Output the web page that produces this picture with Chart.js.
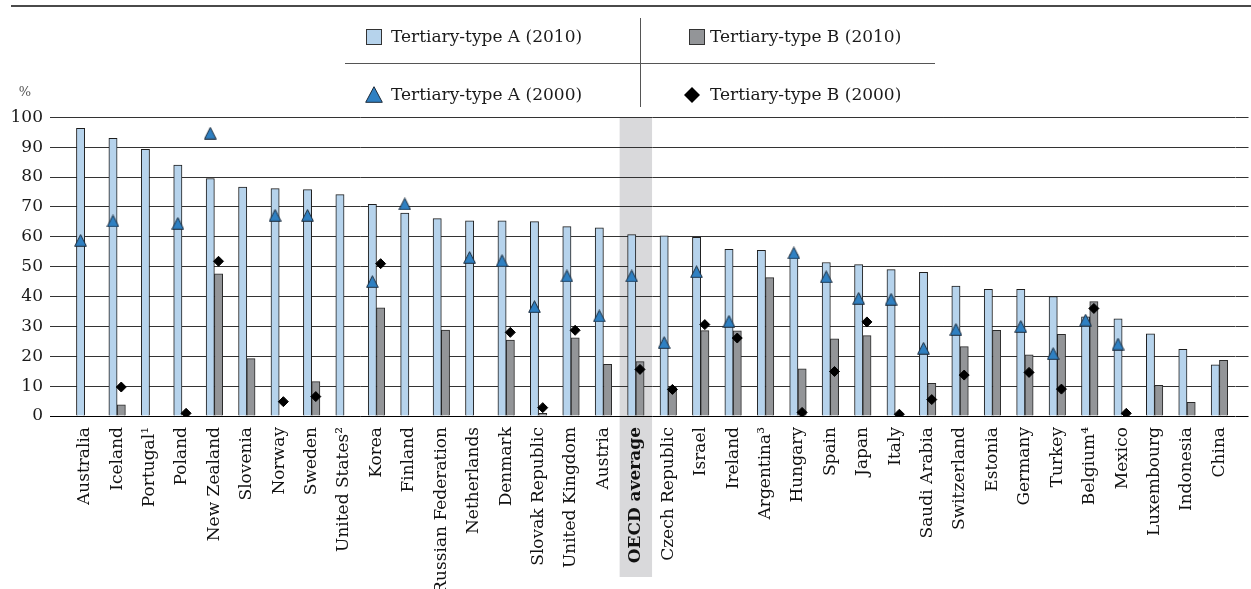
<!DOCTYPE html>
<html>
<head>
<meta charset="utf-8">
<script src="https://cdn.jsdelivr.net/npm/chart.js@4.4.1/dist/chart.umd.min.js"></script>
<style>
  html, body { margin: 0; padding: 0; background: #ffffff; }
  #wrap { position: relative; width: 1251px; height: 589px; }
</style>
</head>
<body>
<div id="wrap"><canvas id="c" width="1251" height="589"></canvas></div>
<script>
// Entry rates into tertiary education, 2000 and 2010 (%)
const categories = [
  'Australia', 'Iceland', 'Portugal¹', 'Poland', 'New Zealand', 'Slovenia', 'Norway', 'Sweden',
  'United States²', 'Korea', 'Finland', 'Russian Federation', 'Netherlands', 'Denmark',
  'Slovak Republic', 'United Kingdom', 'Austria', 'OECD average', 'Czech Republic', 'Israel',
  'Ireland', 'Argentina³', 'Hungary', 'Spain', 'Japan', 'Italy', 'Saudi Arabia', 'Switzerland',
  'Estonia', 'Germany', 'Turkey', 'Belgium⁴', 'Mexico', 'Luxembourg', 'Indonesia', 'China'
];

const typeA2010 = [
  96.3, 93.0, 89.3, 84.0, 79.5, 76.6, 76.1, 75.8, 74.1, 70.9,
  67.9, 66.1, 65.3, 65.3, 65.1, 63.4, 63.0, 60.7, 60.3, 59.8,
  55.8, 55.5, 54.0, 51.4, 50.7, 49.0, 48.1, 43.5, 42.4, 42.4,
  40.0, 33.2, 32.5, 27.5, 22.3, 17.1
];

const typeB2010 = [
  null, 3.7, null, null, 47.6, 19.2, null, 11.5, null, 36.2,
  null, 28.8, null, 25.4, 0.9, 26.2, 17.3, 18.2, 9.5, 28.6,
  28.5, 46.3, 15.8, 25.8, 26.9, null, 10.9, 23.2, 28.7, 20.5,
  27.3, 38.3, null, 10.3, 4.6, 18.6
];

const typeA2000 = [
  58.8, 65.3, null, 64.5, 94.7, null, 67.2, 67.2, null, 45.0,
  71.0, null, 53.1, 52.0, 36.6, 46.9, 33.5, 46.9, 24.6, 48.3,
  31.7, null, 54.6, 46.6, 39.4, 39.1, 22.7, 29.0, null, 30.0,
  20.9, 32.1, 24.1, null, null, null
];

const typeB2000 = [
  null, 9.7, null, 0.9, 51.8, null, 4.8, 6.5, null, 51.0,
  null, null, null, 28.0, 2.8, 28.7, null, 15.6, 8.9, 30.6,
  26.1, null, 1.2, 14.9, 31.5, 0.6, 5.5, 13.7, null, 14.6,
  9.0, 36.0, 0.9, null, null, null
];

const seriesNames = [
  'Tertiary-type A (2010)', 'Tertiary-type B (2010)',
  'Tertiary-type A (2000)', 'Tertiary-type B (2000)'
];

const yTickValues = [0, 10, 20, 30, 40, 50, 60, 70, 80, 90, 100];

const FONT = "'DejaVu Serif', serif";
const COL_A = '#b6d3ec';
const COL_B = '#939598';
const COL_TRI = '#2f80c2';
const OECD_INDEX = categories.indexOf('OECD average');

// each country gets two adjacent bars; this is one bar's width in category units
const BAR_SHARE = 0.255;
const HALF = BAR_SHARE / 2;   // bar centre relative to the category centre

// triangle marker sprite
function triangleSprite(w, h) {
  const c = document.createElement('canvas');
  c.width = w; c.height = h;
  const g = c.getContext('2d');
  g.beginPath();
  g.moveTo(w / 2, 0.7);
  g.lineTo(w - 0.7, h - 0.7);
  g.lineTo(0.7, h - 0.7);
  g.closePath();
  g.fillStyle = COL_TRI;
  g.fill();
  g.lineWidth = 1;
  g.strokeStyle = '#1c2a3a';
  g.stroke();
  return c;
}
const triChart = triangleSprite(13, 13);
const triLegend = triangleSprite(18, 17);

const pointsFrom = (arr, shift) => arr.map((v, i) => ({ x: i + shift, y: v }));

// shaded column behind the OECD average
const bandPlugin = {
  id: 'oecdBand',
  beforeDraw(chart) {
    const { ctx, chartArea } = chart;
    const xs = chart.scales.x;
    const w = xs.width / categories.length;
    const cx = xs.getPixelForValue(OECD_INDEX);
    ctx.save();
    ctx.fillStyle = '#d9d9db';
    ctx.fillRect(cx - w / 2, chartArea.top, w, 577 - chartArea.top);
    ctx.restore();
  }
};

// top rule, unit label and the two-by-two legend
const framePlugin = {
  id: 'frame',
  afterDraw(chart) {
    const ctx = chart.ctx;
    ctx.save();
    ctx.fillStyle = '#4a4a4a';
    ctx.fillRect(11, 5, 1240, 2);

    ctx.font = '13px ' + FONT;
    ctx.fillStyle = '#555555';
    ctx.textAlign = 'center';
    ctx.textBaseline = 'middle';
    ctx.fillText('%', 25, 93);

    // legend dividers
    ctx.strokeStyle = '#555555';
    ctx.lineWidth = 1;
    ctx.beginPath();
    ctx.moveTo(640.5, 18); ctx.lineTo(640.5, 107);
    ctx.moveTo(345, 63.5); ctx.lineTo(935, 63.5);
    ctx.stroke();

    const rowY = [37, 95];
    const colX = [366, 689];
    const textX = [391, 710];

    // bar swatches
    ctx.lineWidth = 1;
    ctx.strokeStyle = '#333333';
    ctx.fillStyle = COL_A;
    ctx.fillRect(colX[0] + 0.5, rowY[0] - 7.5, 15, 15);
    ctx.strokeRect(colX[0] + 0.5, rowY[0] - 7.5, 15, 15);
    ctx.fillStyle = COL_B;
    ctx.fillRect(colX[1] + 0.5, rowY[0] - 7.5, 15, 15);
    ctx.strokeRect(colX[1] + 0.5, rowY[0] - 7.5, 15, 15);

    // point swatches
    ctx.drawImage(triLegend, colX[0] - 1, rowY[1] - 9);
    ctx.beginPath();
    const dx = colX[1] + 3, r = 8;
    ctx.moveTo(dx, rowY[1] - r);
    ctx.lineTo(dx + r, rowY[1]);
    ctx.lineTo(dx, rowY[1] + r);
    ctx.lineTo(dx - r, rowY[1]);
    ctx.closePath();
    ctx.fillStyle = '#000000';
    ctx.fill();

    ctx.font = '17px ' + FONT;
    ctx.fillStyle = '#1a1a1a';
    ctx.textAlign = 'left';
    ctx.textBaseline = 'middle';
    ctx.fillText(seriesNames[0], textX[0], rowY[0] + 1);
    ctx.fillText(seriesNames[1], textX[1], rowY[0] + 1);
    ctx.fillText(seriesNames[2], textX[0], rowY[1] + 1);
    ctx.fillText(seriesNames[3], textX[1], rowY[1] + 1);
    ctx.restore();
  }
};

Chart.defaults.font.family = FONT;
Chart.defaults.color = '#1a1a1a';

new Chart(document.getElementById('c'), {
  type: 'bar',
  data: {
    labels: categories,
    datasets: [
      {
        label: seriesNames[0], xAxisID: 'xm', order: 2,
        data: pointsFrom(typeA2010, -HALF), grouped: false,
        backgroundColor: COL_A, borderColor: '#1e1e1e', borderWidth: 1,
        categoryPercentage: 1.0, barPercentage: 1.0
      },
      {
        label: seriesNames[1], xAxisID: 'xm', order: 2,
        data: pointsFrom(typeB2010, HALF), grouped: false,
        backgroundColor: COL_B, borderColor: '#2a2a2a', borderWidth: 1,
        categoryPercentage: 1.0, barPercentage: 1.0
      },
      {
        type: 'line', label: seriesNames[2], xAxisID: 'xm', order: 1,
        data: pointsFrom(typeA2000, -HALF), showLine: false,
        pointStyle: triChart, pointRadius: 6.5
      },
      {
        type: 'line', label: seriesNames[3], xAxisID: 'xm', order: 0,
        data: pointsFrom(typeB2000, HALF), showLine: false,
        pointStyle: 'rectRot', pointRadius: 5, borderWidth: 1,
        backgroundColor: '#000000', borderColor: '#000000'
      }
    ]
  },
  options: {
    responsive: false,
    animation: false,
    events: [],
    layout: { padding: { top: 117.3, left: 0, right: 0, bottom: 0 } },
    plugins: { legend: { display: false }, tooltip: { enabled: false } },
    scales: {
      x: {
        type: 'category', offset: true,
        grid: { display: false, drawTicks: false },
        border: { display: false },
        ticks: {
          autoSkip: false, minRotation: 90, maxRotation: 90, padding: 11,
          color: '#111111',
          font: (c) => ({ family: FONT, size: 17, weight: c.index === OECD_INDEX ? 'bold' : 'normal' })
        },
        afterFit(s) { s.height = 173; }
      },
      xm: {
        type: 'linear', display: false, offset: false,
        min: -0.5, max: categories.length - 0.5,
        grid: { offset: false }
      },
      y: {
        position: 'left', min: 0, max: 100,
        afterBuildTicks(s) { s.ticks = yTickValues.map(v => ({ value: v })); },
        border: { display: false },
        grid: {
          color: (c) => (c.tick && c.tick.value === 0 ? '#000000' : '#333333'),
          lineWidth: 1, tickLength: 18.5
        },
        ticks: { padding: 7, color: '#1a1a1a', font: { family: FONT, size: 17 } },
        afterFit(s) { s.width = 68.5; }
      },
      yr: {
        position: 'right', min: 0, max: 100,
        afterBuildTicks(s) { s.ticks = yTickValues.map(v => ({ value: v })); },
        border: { display: false },
        grid: {
          drawOnChartArea: false,
          color: (c) => (c.tick && c.tick.value === 0 ? '#000000' : '#333333'),
          lineWidth: 1, tickLength: 12.9
        },
        ticks: { display: false },
        afterFit(s) { s.width = 12.9; }
      }
    }
  },
  plugins: [bandPlugin, framePlugin]
});
</script>
</body>
</html>
